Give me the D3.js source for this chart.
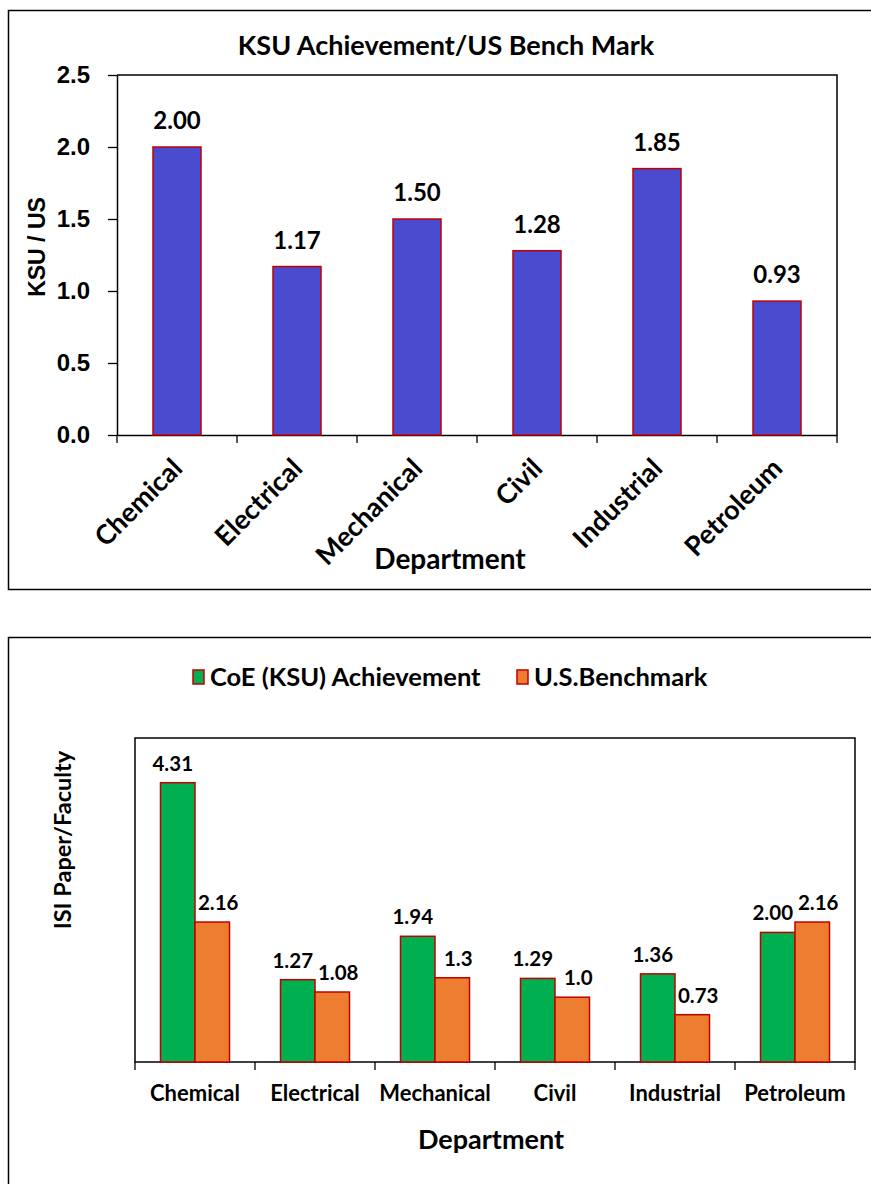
<!DOCTYPE html>
<html>
<head>
<meta charset="utf-8">
<script src="https://cdn.jsdelivr.net/npm/d3@7"></script>
<style>
  body { margin: 0; background: #fff; }
  svg { display: block; font-family: Lato, "Open Sans", sans-serif; font-weight: bold; }
  .arial { font-family: "Liberation Sans", Arial, sans-serif; }
</style>
</head>
<body>
<div id="chart"></div>
<script>
// departments shared by both charts
var departments = ["Chemical", "Electrical", "Mechanical", "Civil", "Industrial", "Petroleum"];

// top chart: KSU / US ratio
var ratioValues = [2.00, 1.17, 1.50, 1.28, 1.85, 0.93];
var ratioLabels = ["2.00", "1.17", "1.50", "1.28", "1.85", "0.93"];
var ratioTicks = [0, 0.5, 1.0, 1.5, 2.0, 2.5];

// bottom chart: ISI papers per faculty
var seriesNames = ["CoE (KSU) Achievement", "U.S.Benchmark"];
var ksuValues = [4.31, 1.27, 1.94, 1.29, 1.36, 2.00];
var usValues = [2.16, 1.08, 1.30, 1.00, 0.73, 2.16];
var ksuLabels = ["4.31", "1.27", "1.94", "1.29", "1.36", "2.00"];
var usLabels = ["2.16", "1.08", "1.3", "1.0", "0.73", "2.16"];

var W = 871, H = 1184;
var blue = "#4b4bd0", green = "#00b050", orange = "#ed7d31", edge = "#c00000";

var svg = d3.select("#chart").append("svg")
  .attr("width", W)
  .attr("height", H);

// ---------- top chart ----------
svg.append("rect")
  .attr("x", 8.5).attr("y", 10.5)
  .attr("width", 870).attr("height", 579)
  .attr("fill", "none").attr("stroke", "#000").attr("stroke-width", 1.5);

var p1 = {left: 117, right: 837, top: 75, bottom: 435};

var x1 = d3.scaleBand().domain(departments).range([p1.left, p1.right]);
var y1 = d3.scaleLinear().domain([0, 2.5]).range([p1.bottom, p1.top]);

svg.append("text")
  .attr("x", 446).attr("y", 55)
  .attr("text-anchor", "middle")
  .attr("font-size", 27)
  .text("KSU Achievement/US Bench Mark");

// plot box (top + right edges)
svg.append("path")
  .attr("d", "M" + p1.left + "," + p1.top + "H" + p1.right + "V" + p1.bottom)
  .attr("fill", "none").attr("stroke", "#000").attr("stroke-width", 1.5);

var yAxis1 = svg.append("g")
  .attr("transform", "translate(" + p1.left + ",0)")
  .call(d3.axisLeft(y1).tickValues(ratioTicks).tickFormat(d3.format(".1f")).tickSize(9).tickSizeOuter(0));
yAxis1.select(".domain").attr("stroke-width", 1.5);
yAxis1.selectAll("line").attr("stroke-width", 1.3);
yAxis1.selectAll("text")
  .attr("class", "arial")
  .attr("font-size", 24).attr("font-weight", "bold")
  .attr("fill", "#000").attr("x", -27);

var xAxis1 = svg.append("g")
  .attr("transform", "translate(0," + p1.bottom + ")")
  .call(d3.axisBottom(x1).tickSize(0).tickSizeOuter(0).tickFormat(""));
xAxis1.select(".domain").attr("stroke-width", 1.5);

// tick marks at category boundaries
svg.append("g").selectAll("line")
  .data(d3.range(departments.length + 1))
  .join("line")
  .attr("x1", function(i) { return p1.left + i * x1.step(); })
  .attr("x2", function(i) { return p1.left + i * x1.step(); })
  .attr("y1", p1.bottom).attr("y2", p1.bottom + 8)
  .attr("stroke", "#000").attr("stroke-width", 1.3);

var bw1 = x1.bandwidth() * 0.4;
svg.append("g").selectAll("rect")
  .data(ratioValues)
  .join("rect")
  .attr("x", function(d, i) { return x1(departments[i]) + (x1.bandwidth() - bw1) / 2; })
  .attr("y", function(d) { return y1(d); })
  .attr("width", bw1)
  .attr("height", function(d) { return y1(0) - y1(d); })
  .attr("fill", blue).attr("stroke", edge).attr("stroke-width", 1.5);

svg.append("g").selectAll("text")
  .data(ratioValues)
  .join("text")
  .attr("x", function(d, i) { return x1(departments[i]) + x1.bandwidth() / 2; })
  .attr("y", function(d) { return y1(d) - 18; })
  .attr("text-anchor", "middle")
  .attr("font-size", 24)
  .text(function(d, i) { return ratioLabels[i]; });

svg.append("g").selectAll("text")
  .data(departments)
  .join("text")
  .attr("text-anchor", "end")
  .attr("font-size", 27)
  .attr("transform", function(d) {
    return "translate(" + (x1(d) + x1.bandwidth() / 2 + 7) + "," + (p1.bottom + 35) + ") rotate(-45)";
  })
  .text(function(d) { return d; });

svg.append("text")
  .attr("x", 450).attr("y", 569)
  .attr("text-anchor", "middle")
  .attr("font-size", 28)
  .text("Department");

svg.append("text")
  .attr("class", "arial")
  .attr("transform", "translate(45,247) rotate(-90)")
  .attr("text-anchor", "middle")
  .attr("font-size", 23)
  .text("KSU / US");

// ---------- bottom chart ----------
svg.append("rect")
  .attr("x", 8.5).attr("y", 637.5)
  .attr("width", 870).attr("height", 600)
  .attr("fill", "none").attr("stroke", "#000").attr("stroke-width", 1.5);

var p2 = {left: 135, right: 855, top: 738, bottom: 1062};

var x2 = d3.scaleBand().domain(departments).range([p2.left, p2.right]);
var groupW = x2.bandwidth() * 0.575;
var xs = d3.scaleBand().domain(seriesNames).range([0, groupW]);
var y2 = d3.scaleLinear().domain([0, 5]).range([p2.bottom, p2.top]);
var colors = [green, orange];

// legend
var legend = svg.append("g");
var legendX = [193, 517];
seriesNames.forEach(function(name, i) {
  legend.append("rect")
    .attr("x", legendX[i]).attr("y", 670)
    .attr("width", 11).attr("height", 14)
    .attr("fill", colors[i]).attr("stroke", edge).attr("stroke-width", 1.5);
  legend.append("text")
    .attr("x", legendX[i] + 17).attr("y", 686)
    .attr("font-size", 25.5)
    .text(name);
});

svg.append("rect")
  .attr("x", p2.left).attr("y", p2.top)
  .attr("width", p2.right - p2.left).attr("height", p2.bottom - p2.top)
  .attr("fill", "none").attr("stroke", "#000").attr("stroke-width", 1.5);

svg.append("g").selectAll("line")
  .data(d3.range(departments.length + 1))
  .join("line")
  .attr("x1", function(i) { return p2.left + i * x2.step(); })
  .attr("x2", function(i) { return p2.left + i * x2.step(); })
  .attr("y1", p2.bottom).attr("y2", p2.bottom + 8)
  .attr("stroke", "#000").attr("stroke-width", 1.3);

var groups = svg.append("g").selectAll("g")
  .data(departments)
  .join("g")
  .attr("transform", function(d) { return "translate(" + (x2(d) + (x2.bandwidth() - groupW) / 2) + ",0)"; });

var seriesData = [ksuValues, usValues];
var seriesLabels = [ksuLabels, usLabels];
var labelShift = [-5, 6];

groups.selectAll("rect")
  .data(function(d, i) { return seriesNames.map(function(s, k) { return {s: s, k: k, v: seriesData[k][i]}; }); })
  .join("rect")
  .attr("x", function(d) { return xs(d.s); })
  .attr("y", function(d) { return y2(d.v); })
  .attr("width", xs.bandwidth())
  .attr("height", function(d) { return y2(0) - y2(d.v); })
  .attr("fill", function(d) { return colors[d.k]; })
  .attr("stroke", edge).attr("stroke-width", 1.5);

groups.selectAll("text")
  .data(function(d, i) { return seriesNames.map(function(s, k) { return {s: s, k: k, v: seriesData[k][i], t: seriesLabels[k][i]}; }); })
  .join("text")
  .attr("x", function(d) { return xs(d.s) + xs.bandwidth() / 2 + labelShift[d.k]; })
  .attr("y", function(d) { return y2(d.v) - 12; })
  .attr("text-anchor", "middle")
  .attr("font-size", 20.5)
  .text(function(d) { return d.t; });

svg.append("g").selectAll("text")
  .data(departments)
  .join("text")
  .attr("x", function(d) { return x2(d) + x2.bandwidth() / 2; })
  .attr("y", p2.bottom + 39)
  .attr("text-anchor", "middle")
  .attr("font-size", 22)
  .text(function(d) { return d; });

svg.append("text")
  .attr("x", 491).attr("y", 1149)
  .attr("text-anchor", "middle")
  .attr("font-size", 27)
  .text("Department");

svg.append("text")
  .attr("transform", "translate(71,840) rotate(-90)")
  .attr("text-anchor", "middle")
  .attr("font-size", 23.5)
  .text("ISI Paper/Faculty");
</script>
</body>
</html>
